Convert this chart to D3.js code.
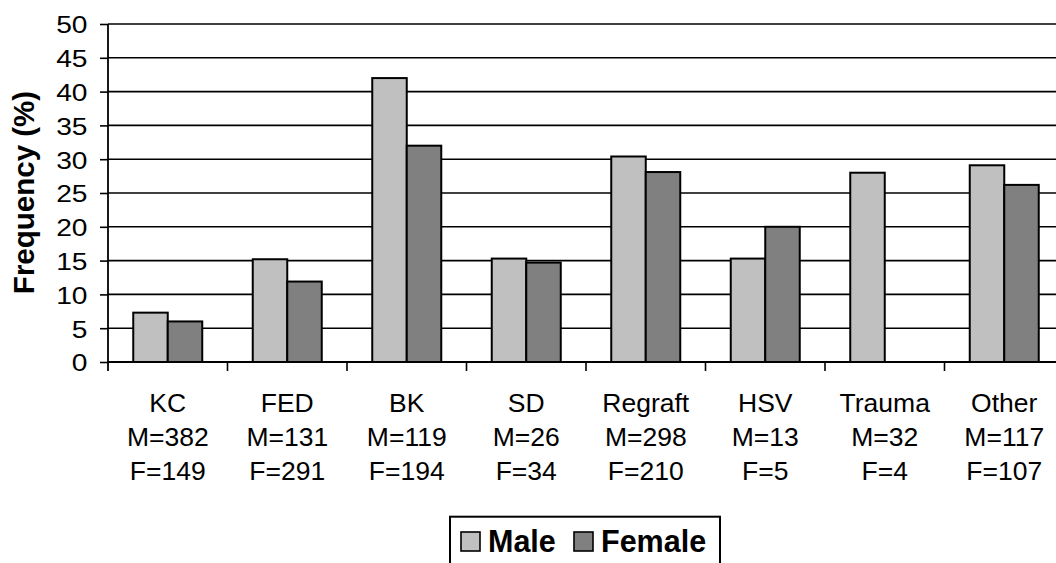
<!DOCTYPE html>
<html>
<head>
<meta charset="utf-8">
<script src="https://cdn.jsdelivr.net/npm/d3@7"></script>
<style>
  html, body { margin: 0; padding: 0; background: #fff; }
  svg { display: block; font-family: "Liberation Sans", Arial, sans-serif; }
</style>
</head>
<body>
<svg id="chart" width="1056" height="563"></svg>
<script>
const categories = ["KC", "FED", "BK", "SD", "Regraft", "HSV", "Trauma", "Other"];
const maleCounts = ["M=382", "M=131", "M=119", "M=26", "M=298", "M=13", "M=32", "M=117"];
const femaleCounts = ["F=149", "F=291", "F=194", "F=34", "F=210", "F=5", "F=4", "F=107"];
const series = ["Male", "Female"];
const maleValues = [7.3, 15.2, 42.0, 15.3, 30.4, 15.3, 28.0, 29.1];
const femaleValues = [6.0, 11.9, 32.0, 14.7, 28.1, 20.0, null, 26.2];
const yTicks = [0, 5, 10, 15, 20, 25, 30, 35, 40, 45, 50];
const colors = { Male: "#C0C0C0", Female: "#808080" };

const svg = d3.select("#chart");
const plotL = 108, plotR = 1064, plotT = 24, plotB = 362;

const y = d3.scaleLinear().domain([0, 50]).range([plotB, plotT]);
const x0 = d3.scaleBand().domain(categories).range([plotL, plotR]).padding(0);
const step = x0.bandwidth();
const x1 = d3.scaleBand().domain(series).range([step * 0.2113, step * 0.7887]).padding(0);

// gridlines
svg.append("g").selectAll("line").data(yTicks.filter(t => t > 0)).join("line")
  .attr("x1", plotL).attr("x2", plotR)
  .attr("y1", d => y(d)).attr("y2", d => y(d))
  .attr("stroke", "#000").attr("stroke-width", 1.6);

// y axis
const tickSX = 1.15;
const yAxis = d3.axisLeft(y).tickValues(yTicks).tickSize(8).tickPadding(12);
const gy = svg.append("g").attr("transform", `translate(${plotL},0)`).call(yAxis);
gy.select(".domain").remove();
gy.selectAll(".tick line").attr("stroke", "#000").attr("stroke-width", 1.6);
gy.selectAll(".tick text").attr("font-size", 24.5).attr("fill", "#000")
  .attr("font-family", "Liberation Sans, Arial, sans-serif")
  .attr("x", -20.5 / tickSX).attr("dy", "0.36em")
  .attr("transform", `scale(${tickSX},1)`);

// bars
const rows = categories.map((c, i) => ({ c, Male: maleValues[i], Female: femaleValues[i] }));
const groups = svg.append("g").selectAll("g").data(rows).join("g")
  .attr("transform", d => `translate(${x0(d.c)},0)`);
groups.selectAll("rect")
  .data(d => series.filter(s => d[s] != null).map(s => ({ s, v: d[s] })))
  .join("rect")
  .attr("x", d => x1(d.s))
  .attr("width", x1.bandwidth())
  .attr("y", d => y(d.v))
  .attr("height", d => y(0) - y(d.v))
  .attr("fill", d => colors[d.s])
  .attr("stroke", "#000").attr("stroke-width", 2);

// axes lines
svg.append("line").attr("x1", plotL).attr("x2", plotL).attr("y1", plotT).attr("y2", plotB + 9)
  .attr("stroke", "#000").attr("stroke-width", 1.8);
svg.append("line").attr("x1", plotL).attr("x2", plotR).attr("y1", plotB).attr("y2", plotB)
  .attr("stroke", "#000").attr("stroke-width", 1.8);
// category ticks
svg.append("g").selectAll("line").data(categories.slice(1)).join("line")
  .attr("x1", d => x0(d)).attr("x2", d => x0(d))
  .attr("y1", plotB).attr("y2", plotB + 9)
  .attr("stroke", "#000").attr("stroke-width", 1.6);

// category labels
const lab = svg.append("g").selectAll("text").data(categories).join("text")
  .attr("text-anchor", "middle").attr("font-size", 26.5).attr("fill", "#000")
  .attr("transform", d => `translate(${x0(d) + step / 2},0)`);
lab.append("tspan").attr("x", 0).attr("y", 411.5).text(d => d);
lab.append("tspan").attr("x", 0).attr("y", 445.5).text((d, i) => maleCounts[i]);
lab.append("tspan").attr("x", 0).attr("y", 480).text((d, i) => femaleCounts[i]);

// y title
svg.append("text").attr("transform", "translate(34,192.5) rotate(-90)")
  .attr("text-anchor", "middle").attr("font-size", 29.5).attr("font-weight", "bold")
  .attr("fill", "#000").text("Frequency (%)");

// legend
const lg = svg.append("g");
lg.append("rect").attr("x", 450).attr("y", 516.7).attr("width", 270).attr("height", 80)
  .attr("fill", "#fff").attr("stroke", "#000").attr("stroke-width", 2);
const legX = { Male: 460, Female: 573 };
series.forEach(s => {
  lg.append("rect").attr("x", legX[s] + 1).attr("y", 532).attr("width", 19).attr("height", 19)
    .attr("fill", colors[s]).attr("stroke", "#000").attr("stroke-width", 1.6);
  lg.append("text").attr("x", legX[s] + 28).attr("y", 552).attr("font-size", 30.5)
    .attr("font-weight", "bold").attr("fill", "#000").text(s);
});
</script>
</body>
</html>
